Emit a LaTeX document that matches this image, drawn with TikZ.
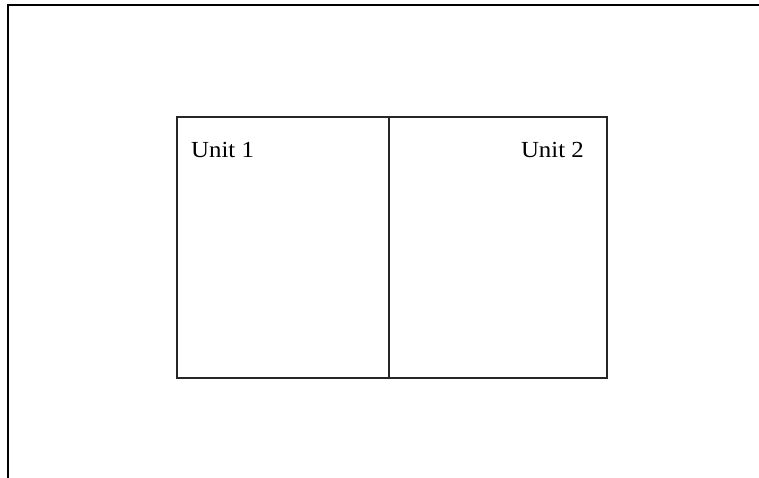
\documentclass[tikz,border=0pt]{standalone}
\usepackage{fontspec}
\setmainfont{Liberation Serif}
\begin{document}
\begin{tikzpicture}[x=1pt,y=-1pt,
  frameline/.style={line width=2.4pt,black},
  boxline/.style={line width=1.8pt,black!85},
  unitlabel/.style={inner sep=0pt,xscale=1.08,font=\fontsize{23}{27}\selectfont}]
\useasboundingbox (0,0) rectangle (759,478);
\fill[white] (0,0) rectangle (759,478);
\coordinate (tl) at (8,5);
\coordinate (tr) at (759,5);
\coordinate (bl) at (8,478);
\draw[frameline] (bl) -- (tl) -- (tr);
\node[draw,boxline,minimum width=430pt,minimum height=261pt,inner sep=0pt,anchor=north west] (box) at (176,116) {};
\coordinate (dt) at (389,116);
\coordinate (db) at (389,377);
\draw[boxline] (dt) -- (db);
\node[unitlabel,anchor=base west] (u1) at (191,158) {Unit 1};
\node[unitlabel,anchor=base east] (u2) at (584,158) {Unit 2};
\end{tikzpicture}
\end{document}
